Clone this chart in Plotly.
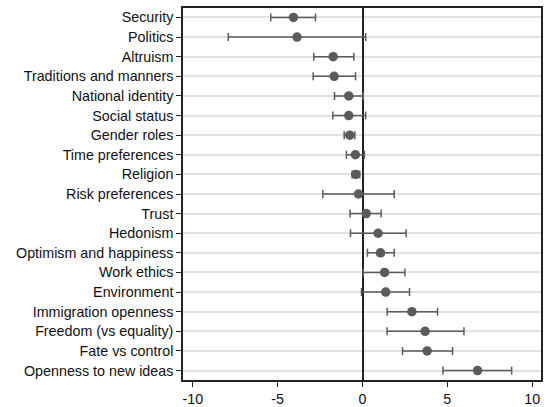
import plotly.graph_objects as go

categories = ["Security", "Politics", "Altruism", "Traditions and manners", "National identity",
              "Social status", "Gender roles", "Time preferences", "Religion", "Risk preferences",
              "Trust", "Hedonism", "Optimism and happiness", "Work ethics", "Environment",
              "Immigration openness", "Freedom (vs equality)", "Fate vs control", "Openness to new ideas"]
estimates = [-4.07, -3.86, -1.73, -1.67, -0.81, -0.81, -0.75, -0.42, -0.40, -0.24,
             0.22, 0.92, 1.06, 1.30, 1.37, 2.91, 3.69, 3.81, 6.78]
ci_low = [-5.41, -7.91, -2.87, -2.91, -1.65, -1.75, -1.08, -0.95, -0.61, -2.34,
          -0.73, -0.71, 0.29, 0.04, -0.06, 1.45, 1.45, 2.36, 4.74]
ci_high = [-2.77, 0.19, -0.51, -0.41, 0.04, 0.19, -0.45, 0.11, -0.16, 1.87,
           1.10, 2.57, 1.87, 2.50, 2.77, 4.42, 5.98, 5.31, 8.79]
x_ticks = [-10, -5, 0, 5, 10]

err_plus = [h - e for h, e in zip(ci_high, estimates)]
err_minus = [e - l for e, l in zip(estimates, ci_low)]

grey = "#5b5b5b"
fig = go.Figure()
fig.add_trace(go.Scatter(
    x=estimates, y=categories, mode="markers",
    marker=dict(size=9.5, color=grey),
    error_x=dict(type="data", symmetric=False, array=err_plus, arrayminus=err_minus,
                 color=grey, thickness=1.5, width=4),
    showlegend=False,
))

fig.update_layout(
    width=547, height=407,
    margin=dict(l=183, r=6, t=8, b=27, autoexpand=False),
    paper_bgcolor="white", plot_bgcolor="white",
    font=dict(family="Liberation Sans, Arial, sans-serif", size=14.3, color="#111111"),
    xaxis=dict(range=[-10.58, 10.52], tickvals=x_ticks, ticktext=[str(t) for t in x_ticks],
               showgrid=False, zeroline=True, zerolinecolor="#222222", zerolinewidth=1.5,
               ticks="outside", ticklen=5, tickwidth=1,
               tickcolor="#222222", showline=True, linecolor="#222222", linewidth=1.5, mirror=True,
               automargin=False),
    yaxis=dict(categoryorder="array", categoryarray=categories, autorange=False,
               range=[18.48, -0.48],
               showgrid=True, gridcolor="#e2e2e2", gridwidth=1.5, zeroline=False,
               ticks="outside", ticklen=5, tickwidth=1, tickcolor="#222222",
               showline=True, linecolor="#222222", linewidth=1.5, mirror=True,
               automargin=False),
)
fig.write_html("out.html", config={"displayModeBar": False},
               post_script="document.body.style.margin='0';document.body.style.overflow='hidden';")
